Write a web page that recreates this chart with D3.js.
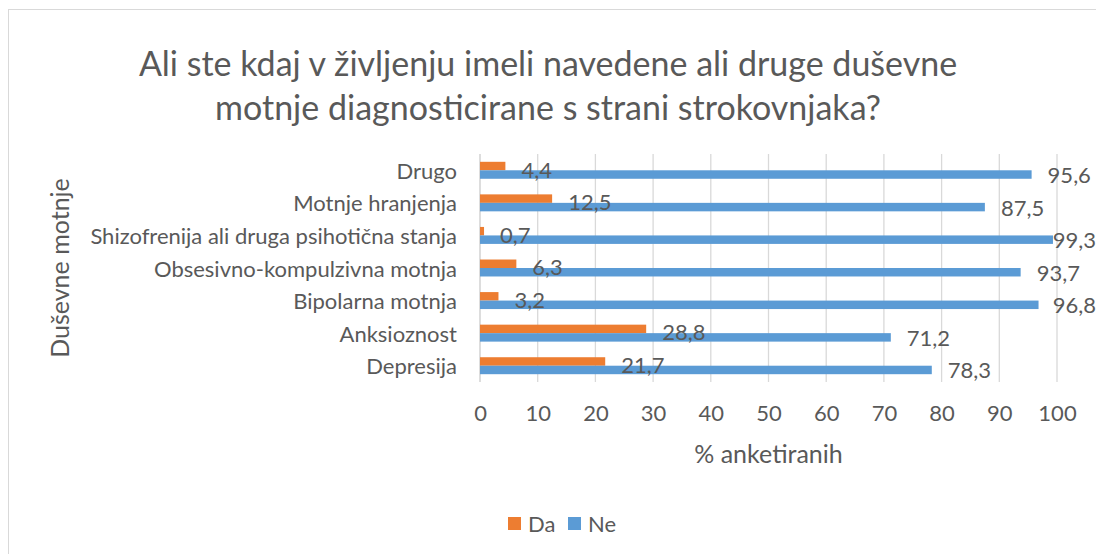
<!DOCTYPE html>
<html>
<head>
<meta charset="utf-8">
<script src="https://cdn.jsdelivr.net/npm/d3@7"></script>
<style>
  body { margin: 0; background: #fff; }
  svg text { font-family: Lato, "Liberation Sans", sans-serif; fill: #595959; }
</style>
</head>
<body>
<svg id="chart"></svg>
<script>
const WIDTH = 1096;
const HEIGHT = 554;

// Plot area, in pixels.
const PLOT_LEFT = 480;
const PLOT_RIGHT = 1057;
const PLOT_TOP = 154;
const PLOT_BOTTOM = 382;

const LABEL_GAP = 16; // between bar end and its value
const FONT = 22; // axis, label and legend text
const TITLE_FONT = 25; // axis titles

const titleLines = [
  'Ali ste kdaj v življenju imeli navedene ali druge duševne',
  'motnje diagnosticirane s strani strokovnjaka?'
];

// Top to bottom, as drawn.
const categories = [
  'Drugo',
  'Motnje hranjenja',
  'Shizofrenija ali druga psihotična stanja',
  'Obsesivno-kompulzivna motnja',
  'Bipolarna motnja',
  'Anksioznost',
  'Depresija'
];
const daValues = [4.4, 12.5, 0.7, 6.3, 3.2, 28.8, 21.7];
const neValues = [95.6, 87.5, 99.3, 93.7, 96.8, 71.2, 78.3];

const seriesNames = ['Da', 'Ne'];
const seriesColors = ['#ED7D31', '#5B9BD5'];
const xTicks = [0, 10, 20, 30, 40, 50, 60, 70, 80, 90, 100];

const xTitle = '% anketiranih';
const yTitle = 'Duševne motnje';

// Numbers use a decimal comma.
const fmt = d3.formatLocale({decimal: ',', thousands: '.', grouping: [3], currency: ['', '']}).format('.1f');

const svg = d3.select('#chart').attr('width', WIDTH).attr('height', HEIGHT);

// Chart border (runs past the right and bottom of the picture).
svg.append('rect')
  .attr('x', 8.5).attr('y', 9.5)
  .attr('width', WIDTH + 10).attr('height', HEIGHT + 10)
  .attr('fill', 'none').attr('stroke', '#d9d9d9');

// Title
svg.append('g')
  .selectAll('text')
  .data(titleLines)
  .join('text')
  .attr('x', 548)
  .attr('y', (_, i) => 76 + i * 44)
  .attr('text-anchor', 'middle')
  .attr('font-size', 34)
  .text(d => d);

const xScale = d3.scaleLinear().domain([0, 100]).range([PLOT_LEFT, PLOT_RIGHT]);
const yScale = d3.scaleBand().domain(categories).range([PLOT_TOP, PLOT_BOTTOM]);
const subScale = d3.scaleBand()
  .domain(seriesNames)
  .range([0, yScale.bandwidth()])
  .paddingInner(0)
  .paddingOuter(0.92);

// Vertical gridlines
svg.append('g')
  .selectAll('line')
  .data(xTicks)
  .join('line')
  .attr('x1', d => xScale(d)).attr('x2', d => xScale(d))
  .attr('y1', PLOT_TOP).attr('y2', PLOT_BOTTOM)
  .attr('stroke', '#d9d9d9').attr('stroke-width', 1.3);

// x axis tick labels
const xAxis = d3.axisBottom(xScale).tickValues(xTicks).tickSize(0).tickPadding(0).tickFormat(d3.format('d'));
const xAxisGroup = svg.append('g')
  .attr('transform', `translate(0, ${PLOT_BOTTOM})`)
  .call(xAxis);
xAxisGroup.select('.domain').remove();
xAxisGroup.selectAll('text')
  .attr('dy', null)
  .attr('y', 30)
  .attr('dominant-baseline', 'central')
  .attr('font-size', FONT)
  .attr('fill', '#595959');

// y axis category labels
const yAxis = d3.axisLeft(yScale).tickSize(0).tickPadding(23);
const yAxisGroup = svg.append('g')
  .attr('transform', `translate(${PLOT_LEFT}, 0)`)
  .call(yAxis);
yAxisGroup.select('.domain').remove();
yAxisGroup.selectAll('text')
  .attr('dy', null)
  .attr('dominant-baseline', 'central')
  .attr('font-size', FONT)
  .attr('fill', '#595959');
svg.append('line')
  .attr('x1', PLOT_LEFT).attr('x2', PLOT_LEFT)
  .attr('y1', PLOT_TOP).attr('y2', PLOT_BOTTOM)
  .attr('stroke', '#d9d9d9').attr('stroke-width', 1.3);

// Rows of data, one per category and series.
const rows = [];
categories.forEach((c, i) => {
  rows.push({category: c, series: 'Da', value: daValues[i], color: seriesColors[0]});
  rows.push({category: c, series: 'Ne', value: neValues[i], color: seriesColors[1]});
});

svg.append('g')
  .selectAll('rect')
  .data(rows)
  .join('rect')
  .attr('x', xScale(0))
  .attr('y', d => yScale(d.category) + subScale(d.series))
  .attr('width', d => xScale(d.value) - xScale(0))
  .attr('height', subScale.bandwidth())
  .attr('fill', d => d.color);

// Value labels, kept inside the chart on the right.
svg.append('g')
  .selectAll('text')
  .data(rows)
  .join('text')
  .attr('y', d => yScale(d.category) + subScale(d.series) + subScale.bandwidth() / 2 + (d.series === 'Da' ? 3 : 0))
  .attr('dominant-baseline', 'central')
  .attr('font-size', FONT)
  .text(d => fmt(d.value))
  .attr('x', function(d) {
    const w = this.getComputedTextLength();
    return Math.min(xScale(d.value) + LABEL_GAP, WIDTH - w);
  });

// Axis titles
svg.append('text')
  .attr('x', (PLOT_LEFT + PLOT_RIGHT) / 2)
  .attr('y', 453)
  .attr('text-anchor', 'middle')
  .attr('dominant-baseline', 'central')
  .attr('font-size', TITLE_FONT)
  .text(xTitle);

svg.append('text')
  .attr('transform', `translate(59, ${(PLOT_TOP + PLOT_BOTTOM) / 2}) rotate(-90)`)
  .attr('text-anchor', 'middle')
  .attr('dominant-baseline', 'central')
  .attr('font-size', TITLE_FONT)
  .text(yTitle);

// Legend
const legend = svg.append('g')
  .selectAll('g')
  .data(seriesNames)
  .join('g')
  .attr('transform', (_, i) => `translate(${508 + i * 60}, 523.5)`);
legend.append('rect')
  .attr('x', 0).attr('y', -6.5)
  .attr('width', 13).attr('height', 13)
  .attr('fill', (_, i) => seriesColors[i]);
legend.append('text')
  .attr('x', 20)
  .attr('dominant-baseline', 'central')
  .attr('font-size', FONT)
  .text(d => d);
</script>
</body>
</html>
